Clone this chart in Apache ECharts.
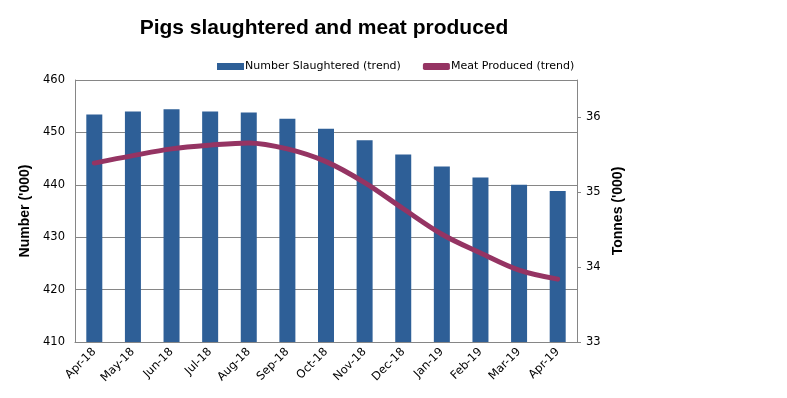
<!DOCTYPE html>
<html>
<head>
<meta charset="utf-8">
<script src="https://cdn.jsdelivr.net/npm/echarts@6/dist/echarts.min.js"></script>
<style>html,body{margin:0;padding:0;background:#fff}#c{width:787px;height:398px}</style>
</head>
<body>
<div id="c"></div>
<script>
const categories = ['Apr-18','May-18','Jun-18','Jul-18','Aug-18','Sep-18','Oct-18','Nov-18','Dec-18','Jan-19','Feb-19','Mar-19','Apr-19'];
const numberSlaughtered = [453.4, 454.0, 454.4, 454.0, 453.8, 452.6, 450.7, 448.5, 445.8, 443.5, 441.4, 440.0, 438.8];
const meatProduced = [35.39, 35.49, 35.58, 35.63, 35.66, 35.58, 35.41, 35.13, 34.78, 34.44, 34.19, 33.96, 33.84];
const leftTicks = {min: 410, max: 460, interval: 10};
const rightTicks = {min: 33, max: 36.5, interval: 1};

const chart = echarts.init(document.getElementById('c'));
const axisFont = {fontFamily: 'DejaVu Sans', fontSize: 11.5, color: '#000'};
chart.setOption({
  animation: false,
  title: {
    text: 'Pigs slaughtered and meat produced',
    left: 319, top: 13, textAlign: 'center',
    textStyle: {fontFamily: 'Liberation Sans', fontWeight: 'bold', fontSize: 21, color: '#000'}
  },
  legend: {
    left: 212, top: 56, itemGap: 22, itemWidth: 27, itemHeight: 7,
    textStyle: {fontFamily: 'DejaVu Sans', fontSize: 11, color: '#000', padding: [0,0,0,-4]},
    data: [
      {name: 'Number Slaughtered (trend)', icon: 'rect'},
      {name: 'Meat Produced (trend)', icon: 'roundRect'}
    ]
  },
  grid: {left: 75, right: 210, top: 80, bottom: 56},
  xAxis: {
    type: 'category', data: categories,
    axisLine: {lineStyle: {color: '#868686'}},
    axisTick: {show: false},
    axisLabel: Object.assign({rotate: 45, interval: 0, margin: 8}, axisFont)
  },
  yAxis: [
    {
      type: 'value', min: leftTicks.min, max: leftTicks.max, interval: leftTicks.interval,
      name: "Number ('000)", nameLocation: 'middle', nameGap: 36, nameRotate: 90,
      nameTextStyle: {fontFamily: 'Liberation Sans', fontWeight: 'bold', fontSize: 14, color: '#000'},
      axisLine: {show: true, lineStyle: {color: '#868686'}},
      axisTick: {show: false},
      splitLine: {lineStyle: {color: '#868686'}},
      axisLabel: Object.assign({margin: 10}, axisFont)
    },
    {
      type: 'value', min: rightTicks.min, max: rightTicks.max, interval: rightTicks.interval,
      name: "Tonnes ('000)", nameLocation: 'middle', nameGap: 34, nameRotate: 90,
      nameTextStyle: {fontFamily: 'Liberation Sans', fontWeight: 'bold', fontSize: 14, color: '#000'},
      axisLine: {show: true, lineStyle: {color: '#868686'}},
      axisTick: {show: true, length: 4, lineStyle: {color: '#868686'}},
      splitLine: {show: false},
      axisLabel: Object.assign({margin: 9, showMaxLabel: false}, axisFont)
    }
  ],
  series: [
    {
      name: 'Number Slaughtered (trend)', type: 'bar', yAxisIndex: 0,
      data: numberSlaughtered, barWidth: 16,
      itemStyle: {color: '#2E5F97'}
    },
    {
      name: 'Meat Produced (trend)', type: 'line', yAxisIndex: 1,
      data: meatProduced, smooth: 0.35, symbol: 'none',
      lineStyle: {color: '#953463', width: 5, cap: 'round'},
      itemStyle: {color: '#953463'}
    }
  ]
});
</script>
</body>
</html>
